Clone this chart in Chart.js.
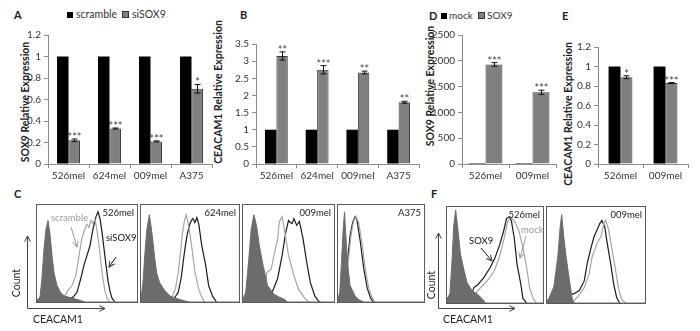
<!DOCTYPE html>
<html>
<head>
<meta charset="utf-8">
<script src="https://cdn.jsdelivr.net/npm/chart.js@4.4.1/dist/chart.umd.min.js"></script>
<style>
  body { margin: 0; width: 700px; height: 331px; position: relative; overflow: hidden; background: #fff;
         font-family: Lato, "Liberation Sans", sans-serif; color: #222; }
  .abs { position: absolute; white-space: nowrap; }
  .letter { font-weight: bold; font-size: 11px; }
  .ytitle { font-weight: bold; font-size: 10.5px; transform: translate(-50%, -50%) rotate(-90deg); color: #222; }
  .leg { font-size: 10.5px; color: #333; }
  .sw { display: inline-block; width: 6px; height: 6px; margin-right: 3px; vertical-align: 0px; }
  .box { position: absolute; border: 1px solid #5a5a5a; }
  .box canvas { display: block; }
  .cell { position: absolute; right: 3px; top: 2px; font-size: 9.5px; color: #222; }
  .note { font-size: 9.5px; }
</style>
</head>
<body>

<!-- panel letters -->
<div class="abs letter" style="left:14px;top:8px">A</div>
<div class="abs letter" style="left:240px;top:8px">B</div>
<div class="abs letter" style="left:14px;top:187px">C</div>
<div class="abs letter" style="left:429px;top:9px">D</div>
<div class="abs letter" style="left:562px;top:9px">E</div>
<div class="abs letter" style="left:431px;top:187px">F</div>

<!-- legends -->
<div class="abs leg" style="left:67px;top:8px"><span class="sw" style="background:#000"></span>scramble</div>
<div class="abs leg" style="left:122px;top:8px"><span class="sw" style="background:#808080;border:1px solid #333;width:5px;height:5px"></span>siSOX9</div>
<div class="abs leg" style="left:441px;top:9px;font-size:10px"><span class="sw" style="background:#000;margin-right:2px"></span>mock</div>
<div class="abs leg" style="left:478px;top:9px;font-size:10px"><span class="sw" style="background:#808080;border:1px solid #333;width:5px;height:5px;margin-right:2px"></span>SOX9</div>

<!-- y axis titles -->
<div class="abs ytitle" style="left:25px;top:102px">SOX9 Relative Expression</div>
<div class="abs ytitle" style="left:218px;top:92px">CEACAM1 Relative Expression</div>
<div class="abs ytitle" style="left:430px;top:86px">SOX9 Relative Expression</div>
<div class="abs ytitle" style="left:568px;top:114px">CEACAM1 Relative Expression</div>

<!-- bar charts -->
<canvas id="chartA" class="abs" width="215" height="165" style="left:0px;top:25px"></canvas>
<canvas id="chartB" class="abs" width="197" height="165" style="left:225px;top:25px"></canvas>
<canvas id="chartD" class="abs" width="129" height="165" style="left:430px;top:25px"></canvas>
<canvas id="chartE" class="abs" width="116" height="165" style="left:575px;top:25px"></canvas>

<!-- flow histograms -->
<div class="box" style="left:36px;top:204px"><canvas id="h1" width="100" height="97"></canvas><div class="cell">526mel</div></div>
<div class="box" style="left:140px;top:204px"><canvas id="h2" width="98" height="97"></canvas><div class="cell">624mel</div></div>
<div class="box" style="left:242px;top:204px"><canvas id="h3" width="91" height="97"></canvas><div class="cell">009mel</div></div>
<div class="box" style="left:337px;top:204px"><canvas id="h4" width="86" height="97"></canvas><div class="cell">A375</div></div>
<div class="box" style="left:446px;top:206px"><canvas id="h5" width="96" height="96"></canvas><div class="cell">526mel</div></div>
<div class="box" style="left:546px;top:206px"><canvas id="h6" width="98" height="96"></canvas><div class="cell">009mel</div></div>

<!-- histogram annotations -->
<div class="abs note" style="left:51px;top:212px;color:#9a9a9a">scramble</div>
<div class="abs note" style="left:106px;top:232px;color:#111">siSOX9</div>
<div class="abs note" style="left:469px;top:235px;color:#111">SOX9</div>
<div class="abs note" style="left:521px;top:224px;color:#9a9a9a">mock</div>

<div class="abs" style="left:16px;top:283px;font-size:10.5px;transform:translate(-50%,-50%) rotate(-90deg)">Count</div>
<div class="abs" style="left:431px;top:285px;font-size:10.5px;transform:translate(-50%,-50%) rotate(-90deg)">Count</div>
<div class="abs" style="left:33px;top:313px;font-size:10.5px">CEACAM1</div>
<div class="abs" style="left:443px;top:313px;font-size:10.5px">CEACAM1</div>

<svg class="abs" width="700" height="331" style="left:0;top:0;pointer-events:none">
  <defs>
    <marker id="ahDark" viewBox="0 0 10 10" refX="9" refY="5" markerUnits="userSpaceOnUse" markerWidth="7" markerHeight="7" orient="auto">
      <path d="M1,1 L9,5 L1,9" fill="none" stroke="#333" stroke-width="1.4"/>
    </marker>
    <marker id="ahGray" viewBox="0 0 10 10" refX="9" refY="5" markerUnits="userSpaceOnUse" markerWidth="7" markerHeight="7" orient="auto">
      <path d="M1,1 L9,5 L1,9" fill="none" stroke="#9a9a9a" stroke-width="1.4"/>
    </marker>
  </defs>
  <g stroke="#444" stroke-width="1" fill="none">
    <line x1="27.5" y1="308.5" x2="27.5" y2="236" marker-end="url(#ahDark)"/>
    <line x1="27.5" y1="308.5" x2="105" y2="308.5" marker-end="url(#ahDark)"/>
    <line x1="438.5" y1="308.5" x2="438.5" y2="233" marker-end="url(#ahDark)"/>
    <line x1="438.5" y1="308.5" x2="515" y2="308.5" marker-end="url(#ahDark)"/>
    <line x1="71" y1="227" x2="77" y2="247" stroke="#9a9a9a" marker-end="url(#ahGray)"/>
    <line x1="116" y1="257" x2="109" y2="267" stroke="#111" marker-end="url(#ahDark)"/>
    <line x1="481" y1="248" x2="492" y2="261" stroke="#111" marker-end="url(#ahDark)"/>
    <line x1="526" y1="236" x2="520" y2="258" stroke="#9a9a9a" marker-end="url(#ahGray)"/>
  </g>
</svg>

<script>
// --- knockdown panels (A, B)
const kdCats = ['526mel', '624mel', '009mel', 'A375'];
const sox9Scramble = [1, 1, 1, 1];
const sox9SiSox9 = [0.22, 0.33, 0.21, 0.70];
const sox9SiSox9Err = [0.012, 0.005, 0.005, 0.04];
const sox9SiSox9Stars = ['***', '***', '***', '*'];

const ceacamScramble = [1, 1, 1, 1];
const ceacamSiSox9 = [3.15, 2.75, 2.67, 1.80];
const ceacamSiSox9Err = [0.12, 0.12, 0.04, 0.03];
const ceacamSiSox9Stars = ['**', '***', '**', '**'];

// --- overexpression panels (D, E)
const oeCats = ['526mel', '009mel'];
const sox9Mock = [1, 1];
const sox9Oe = [1930, 1390];
const sox9OeErr = [35, 40];
const sox9OeStars = ['***', '***'];

const ceacamMock = [1, 1];
const ceacamOe = [0.89, 0.83];
const ceacamOeErr = [0.015, 0.005];
const ceacamOeStars = ['*', '***'];

// --- flow histograms: [CEACAM1 position %, count %]
const c526Iso = [[0,2],[3,5],[5,25],[7,55],[9,75],[11,84],[13,70],[15,48],[17,30],[20,17],[24,9],[28,6],[35,4],[42,2],[48,0],[100,0]];
const c526Scr = [[24,0],[27,4],[31,12],[35,17],[39,28],[42,48],[45,66],[48,76],[50,80],[52,77],[54,84],[56,81],[58,85],[60,74],[62,58],[64,40],[66,24],[68,11],[70,4],[73,0]];
const c526Si = [[28,0],[31,3],[36,5],[40,10],[44,25],[47,38],[50,48],[53,58],[55,70],[57,80],[59,88],[61,93],[63,86],[65,72],[67,55],[69,38],[71,22],[73,11],[75,4],[78,0]];

const c624Iso = [[0,4],[2,20],[4,50],[6,75],[8.5,90],[10,80],[12,64],[14,45],[16,30],[19,20],[24,12],[30,6],[38,3],[45,1],[50,0],[100,0]];
const c624Scr = [[26,0],[31,4],[35,13],[38,30],[40,48],[42,68],[44,82],[46,90],[48,82],[50,70],[52,55],[55,31],[59,13],[62,5],[65,0]];
const c624Si = [[29,0],[34,4],[38,10],[41,25],[43,41],[45,56],[47,69],[50,81],[52,85],[53,86],[55,82],[57,87],[59,80],[62,58],[66,38],[69,17],[73,6],[77,0]];

const c009Iso = [[0,3],[3,10],[6,40],[9,75],[12,90],[15,78],[18,58],[22,38],[27,17],[34,8],[40,5],[45,3],[49,0],[100,0]];
const c009Scr = [[22,0],[24,8],[26,30],[31,34],[34,48],[38,65],[40,83],[43,88],[46,72],[50,48],[56,27],[61,13],[67,5],[72,0]];
const c009Si = [[26,0],[28,5],[32,10],[38,24],[43,48],[47,72],[50,84],[52,82],[54,81],[56,86],[59,79],[62,83],[66,65],[70,41],[74,20],[79,6],[83,1],[85,0]];

const a375Iso = [[0,3],[2,10],[4,40],[6,75],[7.6,93],[9,70],[11,41],[14,17],[20,6],[25,2],[30,0],[100,0]];
const a375Scr = [[4,0],[6,5],[9,20],[12,42],[15,68],[18,83],[21,88],[24,82],[28,60],[32,32],[36,13],[40,4],[43,0]];
const a375Si = [[3,0],[5,5],[8,20],[11,42],[14,68],[17,82],[20,88],[22,85],[26,62],[30,34],[34,14],[38,4],[41,0]];

const f526Iso = [[0,3],[3,10],[5,40],[7,80],[9,97],[11,80],[14,51],[18,33],[21,21],[26,13],[32,9],[37,4],[40,0],[100,0]];
const f526Sox = [[0,5],[5,6],[10,4],[15,6],[20,5],[24,5],[28,16],[32,19],[38,26],[45,37],[50,47],[55,61],[59,75],[62,88],[65,90],[67,86],[70,68],[73,40],[77,19],[79,5],[83,0]];
const f526Mock = [[0,2],[10,3],[20,3],[25,4],[30,10],[35,16],[42,23],[49,33],[54,46],[59,65],[63,84],[66,90],[71,84],[75,75],[79,58],[83,37],[86,16],[90,4],[93,0]];

const f009Iso = [[0,2],[2,5],[7,17],[11,48],[13.5,80],[15,92],[17,70],[19.5,48],[22,30],[24,16],[26,3],[28,0],[100,0]];
const f009Sox = [[0,2],[10,3],[18,6],[28,10],[33,13],[38,23],[41,41],[45,58],[48,69],[51,76],[54,83],[56,86],[59,79],[61,65],[65,41],[68,20],[71,6],[74,0]];
const f009Mock = [[25,0],[31,6],[38,16],[43,30],[46,48],[51,62],[55,69],[58,83],[60,86],[63,76],[66,58],[70,34],[73,15],[76,4],[80,0]];

Chart.defaults.font.family = 'Lato, "Liberation Sans", sans-serif';

const axisGray = '#8c8c8c';

// error bars + significance stars on the treated series
const errorBars = {
  id: 'errorBars',
  afterDatasetsDraw(chart, args, opts) {
    const ctx = chart.ctx;
    const ys = chart.scales.y;
    const meta = chart.getDatasetMeta(1);
    const vals = chart.data.datasets[1].data;
    ctx.save();
    ctx.strokeStyle = '#111';
    ctx.lineWidth = 1;
    ctx.fillStyle = '#444';
    ctx.font = '11px Lato, "Liberation Sans", sans-serif';
    ctx.textAlign = 'center';
    ctx.textBaseline = 'alphabetic';
    meta.data.forEach((bar, i) => {
      const x = Math.round(bar.x) + 0.5;
      const top = ys.getPixelForValue(vals[i] + opts.err[i]);
      const bot = ys.getPixelForValue(vals[i] - opts.err[i]);
      ctx.beginPath();
      ctx.moveTo(x, top); ctx.lineTo(x, bot);
      ctx.moveTo(x - 3, top); ctx.lineTo(x + 3, top);
      ctx.moveTo(x - 3, bot); ctx.lineTo(x + 3, bot);
      ctx.stroke();
      ctx.fillText(opts.stars[i], x, top + 2);
    });
    ctx.restore();
  }
};

function barPanel(id, cats, ctrl, treat, err, stars, yMax, yStep, yWidth, padTop, catPct) {
  return new Chart(document.getElementById(id), {
    type: 'bar',
    data: {
      labels: cats,
      datasets: [
        { data: ctrl, backgroundColor: '#000', borderWidth: 0 },
        { data: treat, backgroundColor: '#808080', borderColor: '#3a3a3a', borderWidth: 1 }
      ]
    },
    options: {
      responsive: false,
      animation: false,
      layout: { padding: { top: padTop, right: 3, left: 0, bottom: 0 } },
      datasets: { bar: { categoryPercentage: catPct, barPercentage: 1 } },
      plugins: {
        legend: { display: false },
        tooltip: { enabled: false },
        errorBars: { err: err, stars: stars }
      },
      scales: {
        x: {
          grid: { offset: true, drawOnChartArea: false, tickLength: 4, color: axisGray },
          border: { color: axisGray },
          ticks: { color: '#333', font: { size: 10 }, padding: 2, maxRotation: 0 },
          afterFit: s => { s.height = 26; }
        },
        y: {
          min: 0, max: yMax,
          grid: { drawOnChartArea: false, tickLength: 4, color: axisGray },
          border: { color: axisGray },
          ticks: { stepSize: yStep, color: '#333', font: { size: 10 }, padding: 3, callback: v => +v.toFixed(2) },
          afterFit: s => { s.width = yWidth; }
        }
      }
    },
    plugins: [errorBars]
  });
}

barPanel('chartA', kdCats, sox9Scramble, sox9SiSox9, sox9SiSox9Err, sox9SiSox9Stars, 1.2, 0.2, 48, 10, 0.56);
barPanel('chartB', kdCats, ceacamScramble, ceacamSiSox9, ceacamSiSox9Err, ceacamSiSox9Stars, 3.5, 0.5, 31, 19, 0.56);
barPanel('chartD', oeCats, sox9Mock, sox9Oe, sox9OeErr, sox9OeStars, 2500, 500, 32, 10, 0.72);
barPanel('chartE', oeCats, ceacamMock, ceacamOe, ceacamOeErr, ceacamOeStars, 1.2, 0.2, 23, 22, 0.53);

function toXY(pairs) { return pairs.map(p => ({ x: p[0], y: p[1] })); }

function histPanel(id, iso, light, dark) {
  return new Chart(document.getElementById(id), {
    type: 'line',
    data: {
      datasets: [
        { data: toXY(iso), borderColor: '#6c6c6c', backgroundColor: '#6c6c6c', fill: 'origin', borderWidth: 1 },
        { data: toXY(light), borderColor: '#a6a6a6', borderWidth: 1.2, fill: false },
        { data: toXY(dark), borderColor: '#1a1a1a', borderWidth: 1.2, fill: false }
      ]
    },
    options: {
      responsive: false,
      animation: false,
      layout: { padding: 0 },
      elements: { point: { radius: 0 }, line: { tension: 0 } },
      plugins: { legend: { display: false }, tooltip: { enabled: false } },
      scales: {
        x: { type: 'linear', min: 0, max: 100, display: false },
        y: { min: 0, max: 100, display: false }
      }
    }
  });
}

histPanel('h1', c526Iso, c526Scr, c526Si);
histPanel('h2', c624Iso, c624Scr, c624Si);
histPanel('h3', c009Iso, c009Scr, c009Si);
histPanel('h4', a375Iso, a375Scr, a375Si);
histPanel('h5', f526Iso, f526Mock, f526Sox);
histPanel('h6', f009Iso, f009Mock, f009Sox);
</script>
</body>
</html>
